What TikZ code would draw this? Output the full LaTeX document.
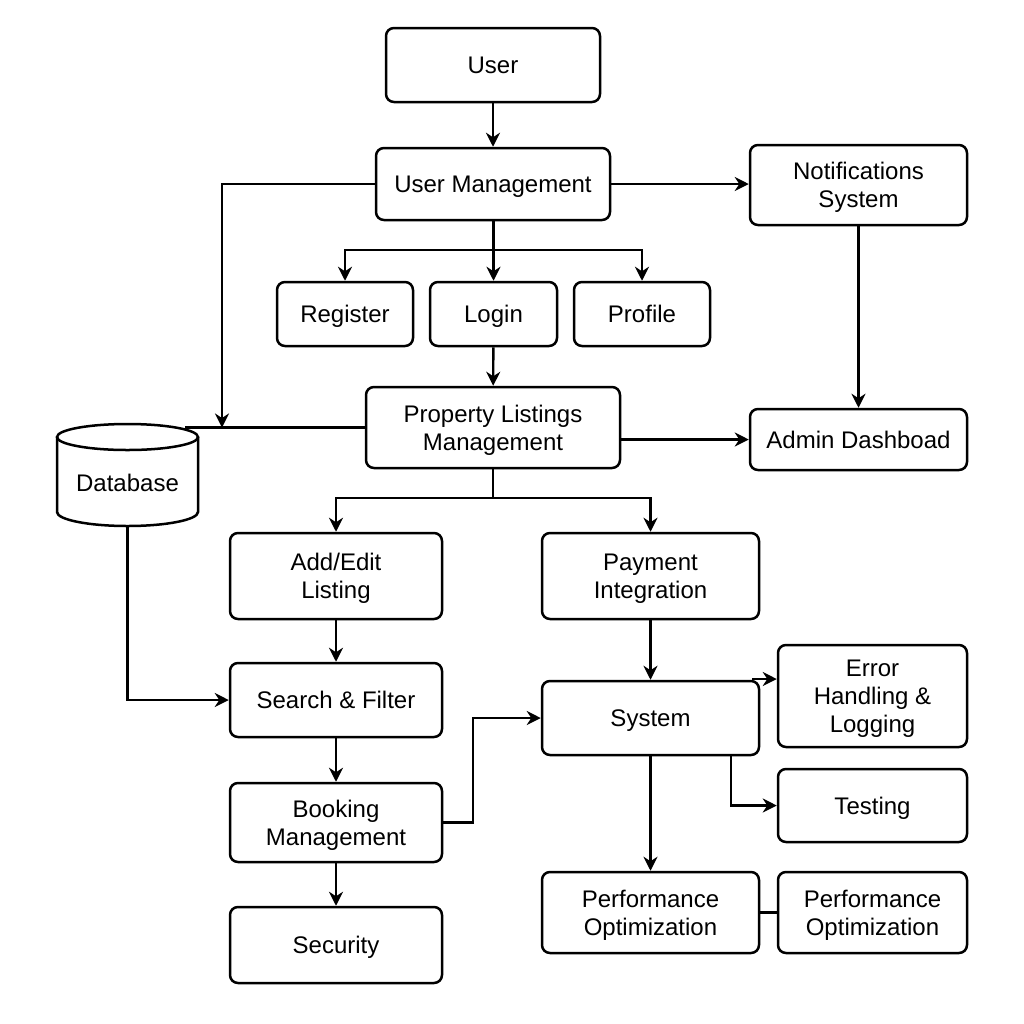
\documentclass[tikz,border=0pt]{standalone}
\usepackage{fontspec}
\setmainfont{Liberation Sans}
\usetikzlibrary{arrows.meta}
\begin{document}
\begin{tikzpicture}[x=0.5pt,y=-0.5pt,
  box/.style={draw,line width=1.25pt,rounded corners=4pt,align=center,inner sep=0pt,text depth=0pt,font=\fontsize{12}{14}\selectfont},
  arr/.style={line width=1.2pt,-{Stealth[length=7pt,width=7pt]}},
  ln/.style={line width=1.2pt}]
\useasboundingbox[fill=white] (0,0) rectangle (1024,1024);

\node[box,minimum width=107pt,minimum height=37pt] (user) at (493,65) {User};
\node[box,minimum width=117pt,minimum height=36pt] (um) at (493,184) {User Management};
\node[box,minimum width=108.5pt,minimum height=40pt] (notif) at (858.5,185) {Notifications\\System};
\node[box,minimum width=68pt,minimum height=32pt] (reg) at (345,314) {Register};
\node[box,minimum width=63.5pt,minimum height=32pt] (login) at (493.5,314) {Login};
\node[box,minimum width=68pt,minimum height=32pt] (prof) at (642,314) {Profile};
\node[box,minimum width=127pt,minimum height=40.5pt] (plm) at (493,427.5) {Property Listings\\Management};
\node[box,minimum width=108.5pt,minimum height=30.5pt] (admin) at (858.5,439.5) {Admin Dashboad};
\node[box,minimum width=106pt,minimum height=43pt] (add) at (336,576) {Add/Edit\\Listing};
\node[box,minimum width=108.5pt,minimum height=43pt] (pay) at (650.5,576) {Payment\\Integration};
\node[box,minimum width=106pt,minimum height=37pt] (search) at (336,700) {Search \& Filter};
\node[box,minimum width=108.5pt,minimum height=37pt] (sys) at (650.5,718) {System};
\node[box,minimum width=94.5pt,minimum height=51pt] (err) at (872.5,696) {Error\\Handling \&\\Logging};
\node[box,minimum width=94.5pt,minimum height=36.5pt] (test) at (872.5,805.5) {Testing};
\node[box,minimum width=106pt,minimum height=39.5pt] (book) at (336,822.5) {Booking\\Management};
\node[box,minimum width=106pt,minimum height=38pt] (sec) at (336,945) {Security};
\node[box,minimum width=108.5pt,minimum height=40.5pt] (po1) at (650.5,912.5) {Performance\\Optimization};
\node[box,minimum width=94.5pt,minimum height=40.5pt] (po2) at (872.5,912.5) {Performance\\Optimization};

% database cylinder
\draw[line width=1.25pt] (127.5,437) ellipse [x radius=35.25pt, y radius=6.5pt];
\draw[line width=1.25pt] (57,437) -- (57,512) arc[start angle=180,end angle=360,x radius=35.25pt,y radius=7pt] -- (198,437);
\node[font=\fontsize{12}{14}\selectfont,text depth=0pt] (db) at (127.5,483) {Database};
\coordinate (dbtop) at (185,427.5);
\coordinate (dbb) at (127.5,526);

\coordinate (dbj) at (222,427.5);
\coordinate (sp1) at (493.5,250);
\coordinate (sp2) at (493,498);
\coordinate (bk) at (473,822.5);
\coordinate (se) at (752,679);
\coordinate (st) at (731,755);

\draw[arr] (user) -- (um);
\draw[arr] (um.east) -- (um.east -| notif.west);
\draw[arr] (um.west) -| (dbj);
\draw[ln] (plm.west) -- (dbtop);
\draw[arr] (um.south -| login.north) -- (login.north);
\draw[arr] (sp1) -| (reg.north);
\draw[arr] (sp1) -| (prof.north);
\draw[arr] (login) -- (plm);
\draw[arr] (notif) -- (admin);
\draw[arr] (plm.east |- admin.west) -- (admin.west);
\draw[ln] (plm.south) -- (sp2);
\draw[arr] (sp2) -| (add.north);
\draw[arr] (sp2) -| (pay.north);
\draw[arr] (add) -- (search);
\draw[arr] (search) -- (book);
\draw[arr] (book) -- (sec);
\draw[arr] (pay) -- (sys);
\draw[arr] (sys) -- (po1);
\draw[arr] (dbb) |- (search.west);
\draw[arr] (book.east) -- (bk) |- (sys.west);
\draw[arr] (se) -- (se -| err.west);
\draw[arr] (st) |- (test.west);
\draw[ln] (po1) -- (po2);
\end{tikzpicture}
\end{document}
